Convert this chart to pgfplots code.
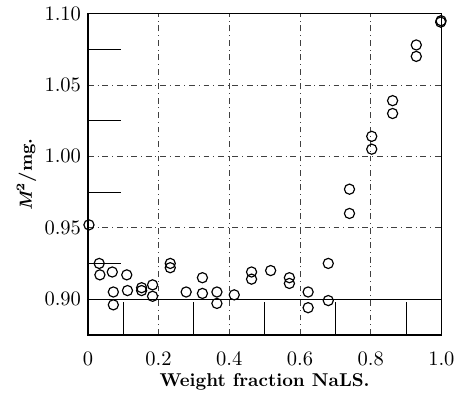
\documentclass[border=0pt]{standalone}
\usepackage{pgfplots}
\pgfplotsset{compat=1.18}
\begin{document}
\begin{tikzpicture}
\begin{axis}[
  scale only axis, width=181pt, height=164.5pt,
  xmin=0, xmax=1.0, ymin=0.875, ymax=1.10,
  xtick={0,0.2,0.4,0.6,0.8,1.0},
  xticklabels={0,0.2,0.4,0.6,0.8,1.0},
  ytick={0.90,0.95,1.00,1.05,1.10},
  yticklabels={0.90,0.95,1.00,1.05,1.10},
  minor xtick={0.1,0.3,0.5,0.7,0.9},
  minor ytick={0.925,0.975,1.025,1.075},
  tick align=inside, xtick pos=bottom, ytick pos=left,
  major tick length=0pt, minor tick length=17pt,
  every minor tick/.style={black, line width=0.5pt},
  grid=major,
  major grid style={black!75, dashdotted, line width=0.4pt},
  axis line style={black, line width=0.7pt},
  tick label style={font=\fontsize{10.5}{12}\selectfont},
  xticklabel style={yshift=-5pt},
  xlabel={\fontsize{9.5}{11}\selectfont\bfseries Weight fraction NaLS.},
  ylabel={\fontsize{9}{11}\selectfont\bfseries\itshape M\upshape\textsuperscript{2}/mg.},
  xlabel style={at={(axis description cs:0.5,-0.146)}, anchor=center},
  ylabel style={at={(axis description cs:-0.174,0.5)}, anchor=center},
  clip=false,
]
% solid rule at 0.90 as on the original graph paper
\draw[black, line width=0.5pt] (axis cs:0,0.90) -- (axis cs:1,0.90);
\addplot[only marks, mark=o, mark size=2.6pt, black, line width=0.6pt] coordinates {
  (0.003,0.952)
  (0.032,0.925) (0.034,0.917) (0.069,0.919) (0.110,0.917)
  (0.072,0.905) (0.072,0.896) (0.112,0.906)
  (0.152,0.908) (0.152,0.906) (0.183,0.910) (0.183,0.902)
  (0.233,0.925) (0.233,0.922) (0.278,0.905)
  (0.324,0.915) (0.324,0.904) (0.365,0.905) (0.365,0.897) (0.414,0.903)
  (0.463,0.919) (0.463,0.914) (0.517,0.920) (0.570,0.915) (0.570,0.911)
  (0.623,0.905) (0.623,0.894) (0.680,0.925) (0.680,0.899)
  (0.740,0.977) (0.740,0.960) (0.803,1.014) (0.803,1.005)
  (0.862,1.039) (0.862,1.030) (0.929,1.078) (0.929,1.070)
  (0.998,1.094) (0.999,1.095)
};
\end{axis}
\path ([xshift=-45pt]current axis.west);
\end{tikzpicture}
\end{document}
